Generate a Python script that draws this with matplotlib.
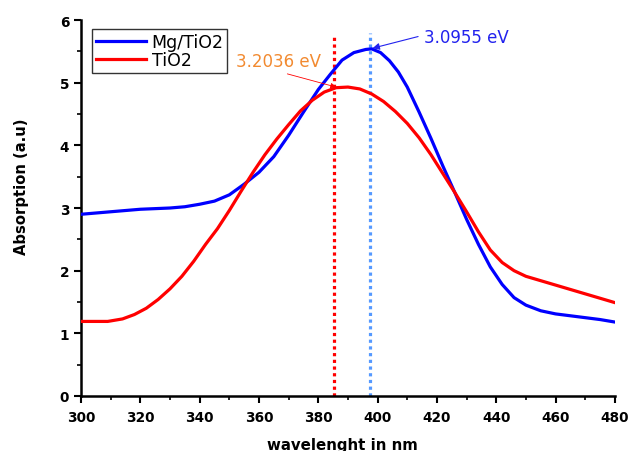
import matplotlib
matplotlib.use("Agg")
import matplotlib.pyplot as plt
from matplotlib.ticker import MultipleLocator

plt.rcParams['font.family'] = ['DejaVu Sans']

wl_mg = [300, 310, 320, 330, 335, 340, 345, 350, 355, 360, 365, 370, 375, 380, 384, 388, 392, 396, 398,
         401, 404, 407, 410, 414, 418, 422, 426, 430, 434, 438, 442, 446, 450, 455, 460, 465, 470, 475, 480]
abs_mg = [2.90, 2.94, 2.98, 3.00, 3.02, 3.06, 3.11, 3.21, 3.38, 3.57, 3.82, 4.16, 4.53, 4.89, 5.13, 5.36, 5.48, 5.53, 5.54,
          5.48, 5.35, 5.17, 4.93, 4.53, 4.11, 3.67, 3.25, 2.82, 2.42, 2.06, 1.78, 1.57, 1.45, 1.36, 1.31, 1.28, 1.25, 1.22, 1.18]

wl_ti = [300, 305, 309, 314, 318, 322, 326, 330, 334, 338, 342, 346, 350, 354, 358, 362, 366, 370, 374, 378,
         382, 386, 390, 394, 398, 402, 406, 410, 414, 418, 422, 426, 430, 434, 438, 442, 446, 450, 455, 460,
         465, 470, 475, 480]
abs_ti = [1.19, 1.19, 1.19, 1.23, 1.30, 1.40, 1.54, 1.71, 1.91, 2.15, 2.42, 2.67, 2.96, 3.27, 3.57, 3.85, 4.10, 4.33, 4.55, 4.72,
          4.85, 4.92, 4.93, 4.90, 4.82, 4.70, 4.54, 4.35, 4.12, 3.85, 3.55, 3.25, 2.94, 2.62, 2.33, 2.13, 2.00, 1.91, 1.84, 1.77,
          1.70, 1.63, 1.56, 1.49]

edge_ti = 385.3
edge_mg = 397.4
label_ti = "3.2036 eV"
label_mg = "3.0955 eV"

fig = plt.figure(figsize=(6.3, 4.52), dpi=100)
ax = fig.add_axes([0.1286, 0.1217, 0.8474, 0.8318])

ax.plot(wl_mg, abs_mg, color='#0000ff', lw=2.3, label='Mg/TiO2', zorder=3)
ax.plot(wl_ti, abs_ti, color='#ff0000', lw=2.3, label='TiO2', zorder=3)

ax.plot([edge_ti, edge_ti], [0, 5.78], color='#ff0000', lw=2.3, ls=(0, (1.0, 1.1)), zorder=2)
ax.plot([edge_mg, edge_mg], [0, 5.8], color='#5599ff', lw=2.3, ls=(0, (1.0, 1.1)), zorder=2)

ax.annotate(label_mg, xy=(398.3, 5.55), xytext=(415.5, 5.73), color='#2222ee', fontsize=12,
            va='center', ha='left',
            arrowprops=dict(arrowstyle='-|>', color='#2222ee', lw=0.8, mutation_scale=10,
                            shrinkA=2, shrinkB=0, relpos=(0.0, 0.6)))
ax.annotate(label_ti, xy=(386.0, 4.93), xytext=(352.3, 5.34), color='#f28a30', fontsize=12,
            va='center', ha='left',
            arrowprops=dict(arrowstyle='-|>', color='#ff0000', lw=0.6, mutation_scale=8,
                            shrinkA=2, shrinkB=0, relpos=(0.45, 0.0)))

ax.set_xlim(300, 480)
ax.set_ylim(0, 6)
ax.xaxis.set_major_locator(MultipleLocator(20))
ax.xaxis.set_minor_locator(MultipleLocator(10))
ax.yaxis.set_major_locator(MultipleLocator(1))
ax.yaxis.set_minor_locator(MultipleLocator(0.5))

for s in ['top', 'right']:
    ax.spines[s].set_visible(False)
for s in ['left', 'bottom']:
    ax.spines[s].set_linewidth(1.8)
ax.tick_params(which='major', direction='out', length=5, width=1.5, labelsize=9.8)
ax.tick_params(axis='x', which='major', pad=5)
ax.tick_params(which='minor', direction='out', length=3, width=1.2)
for lab in ax.get_xticklabels() + ax.get_yticklabels():
    lab.set_fontweight('bold')

ax.set_xlabel('wavelenght in nm', fontsize=10.8, fontweight='bold')
ax.set_ylabel('Absorption (a.u)', fontsize=10.6, fontweight='bold')
ax.xaxis.set_label_coords(0.4906, -0.108)
ax.yaxis.set_label_coords(-0.098, 0.5585)

leg = ax.legend(loc='upper left', bbox_to_anchor=(0.015, 0.985), fontsize=12.5, frameon=True,
                fancybox=False, edgecolor='black', handlelength=2.9, borderpad=0.2,
                labelspacing=0.05, handletextpad=0.3, borderaxespad=0.2)
leg.get_frame().set_linewidth(1.0)

fig.savefig('out.png', dpi=100)
